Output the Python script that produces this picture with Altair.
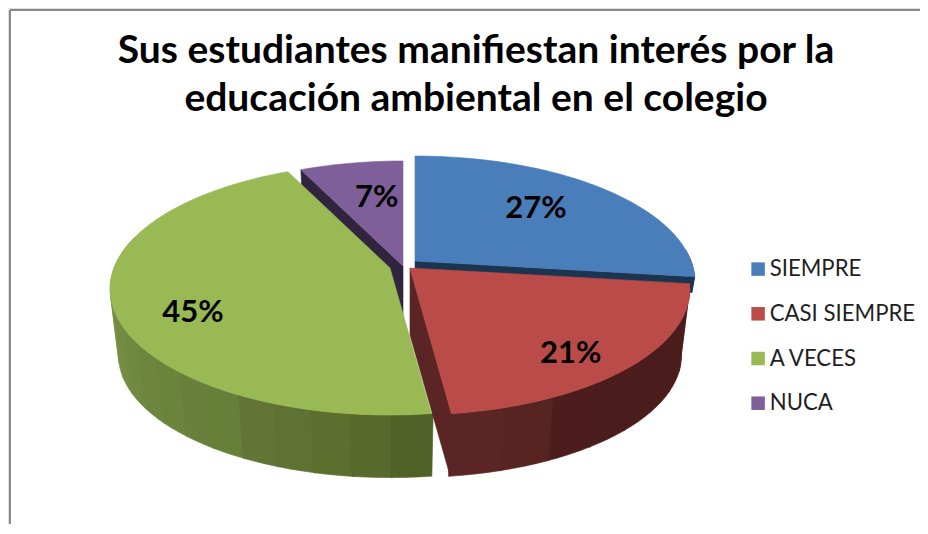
import math
import altair as alt
import pandas as pd

categories = ["SIEMPRE", "CASI SIEMPRE", "A VECES", "NUCA"]
shares = [27, 21, 45, 7]
top_colors = ["#4A7EBB", "#BA4B49", "#98B954", "#7F5F9A"]
apex_x = [407, 402, 382, 395]
apex_y = [253, 260, 260, 258]
label_radius = [0.66, 0.78, 0.72, 0.60]
label_nudge_x = [-6.5, -7, 0.5, 6.5]
label_nudge_y = [-2, 12, 20, -3]
green_bands = ["#8B9F4E", "#86A04B", "#7F994A", "#7D9A45", "#768F42", "#748C41", "#6F8A40",
               "#6E8540", "#6B843C", "#6B7F3C", "#66803A", "#637436", "#5F7233", "#5C6F2F",
               "#57692B", "#506227"]
red_bands = ["#4A1C1C", "#4A1C1C", "#4A1C1C", "#4A1C1C", "#4A1C1C", "#4C1D1C", "#572421", "#5A2524"]
blue_wall = "#1B3550"
purple_wall = "#30243F"

K = 1 / 6
RX, RY = 276, 122.5
SCALE_BOTTOM, DROP, BLUE_DROP = 0.97, 67, 16


def project(theta, ax, ay, r=1.0, s=1.0, d=0.0):
    t = math.radians(theta)
    u, v = r * math.sin(t), -r * math.cos(t)
    w = 1 - K * v
    return ax + s * RX * u / w, ay + d + s * RY * v / w


def arc_angles(a, b, step=2.0):
    n = max(1, int(abs(b - a) / step))
    return [a + (b - a) * i / n for i in range(n + 1)]


rows = []
poly_id = 0


def add_poly(points, fill, cat=None):
    global poly_id
    points = points + [points[0]]
    for i, (x, y) in enumerate(points):
        rows.append({"poly": poly_id, "seq": i, "x": x, "y": y, "fill": fill, "cat": cat})
    poly_id += 1


def wall(a, b, ax, ay, fill, drop=DROP, s=SCALE_BOTTOM):
    angs = arc_angles(a, b)
    top = [project(t, ax, ay) for t in angs]
    bot = [project(t, ax, ay, s=s, d=drop) for t in reversed(angs)]
    add_poly(top + bot, fill)


def cut(theta, ax, ay, fill, drop=DROP, s=SCALE_BOTTOM):
    add_poly([(ax, ay), project(theta, ax, ay),
              project(theta, ax, ay, s=s, d=drop), (ax, ay + drop)], fill)


total = sum(shares)
starts, ends, acc = [], [], 0
for v in shares:
    starts.append(acc / total * 360)
    acc += v
    ends.append(acc / total * 360)

# sides, back to front
wall(85, ends[0], apex_x[0], apex_y[0], blue_wall, BLUE_DROP, 0.99)
cut(ends[0], apex_x[0], apex_y[0], blue_wall, BLUE_DROP, 0.99)
cut(starts[3], apex_x[3], apex_y[3], purple_wall)
for bands, a, b, i in [(green_bands, 285, starts[2], 2), (red_bands, starts[1], ends[1], 1)]:
    for j, c in enumerate(bands):
        wall(a + (b - a) * j / len(bands), a + (b - a) * (j + 1) / len(bands) + 0.3 * (1 if b > a else -1),
             apex_x[i], apex_y[i], c)
cut(ends[1], apex_x[1], apex_y[1], red_bands[-1])
walls = pd.DataFrame(rows)

rows = []
for i in [0, 3, 2, 1]:
    pts = [(apex_x[i], apex_y[i])] + [project(t, apex_x[i], apex_y[i]) for t in arc_angles(starts[i], ends[i])]
    add_poly(pts, top_colors[i], categories[i])
tops = pd.DataFrame(rows)

labels = []
for i, v in enumerate(shares):
    x, y = project((starts[i] + ends[i]) / 2, apex_x[i], apex_y[i], r=label_radius[i])
    labels.append({"x": x + label_nudge_x[i], "y": y + label_nudge_y[i], "text": f"{v}%"})
labels = pd.DataFrame(labels)

W, H = 912, 516
xs = alt.Scale(domain=[0, W], range=[0, W], nice=False, zero=False)
ys = alt.Scale(domain=[0, H], range=[0, H], nice=False, zero=False)
X = alt.X("x:Q", scale=xs, axis=None)
Y = alt.Y("y:Q", scale=ys, axis=None)

wall_layer = alt.Chart(walls).mark_line(strokeWidth=0.6, interpolate="linear").encode(
    x=X, y=Y, order="seq:Q", detail="poly:N",
    fill=alt.Fill("fill:N", scale=None), stroke=alt.Stroke("fill:N", scale=None))

top_layer = alt.Chart(tops).mark_line(strokeWidth=0.6, interpolate="linear").encode(
    x=X, y=Y, order="seq:Q", detail="poly:N",
    fill=alt.Fill("fill:N", scale=None), stroke=alt.Stroke("fill:N", scale=None))

legend_df = pd.DataFrame({"cat": categories, "x": [0] * 4, "y": [0] * 4})
legend_layer = alt.Chart(legend_df).mark_square(size=0, opacity=0).encode(
    x=X, y=Y,
    color=alt.Color("cat:N", sort=categories,
                    scale=alt.Scale(domain=categories, range=top_colors),
                    legend=alt.Legend(title=None, orient="none", legendX=739, legendY=250,
                                      symbolType="square", symbolSize=182, symbolStrokeWidth=0,
                                      symbolOpacity=1, labelFont="Lato", labelFontSize=22.2,
                                      labelColor="#1f1f1f", labelOffset=0.5, rowPadding=21.7,
                                      labelLimit=200)))

label_layer = alt.Chart(labels).mark_text(font="Lato", fontWeight="bold", fontSize=31, color="#000000").encode(
    x=X, y=Y, text="text:N")

frame_left = alt.Chart(legend_df.head(1)).mark_rule(color="#8A8A8A", strokeWidth=2).encode(
    x=alt.value(2), y=alt.value(2), y2=alt.value(H))
frame_top = alt.Chart(legend_df.head(1)).mark_rule(color="#8A8A8A", strokeWidth=2).encode(
    x=alt.value(2), x2=alt.value(W), y=alt.value(2))

chart = alt.layer(frame_left, frame_top, wall_layer, top_layer, legend_layer, label_layer).properties(
    width=W, height=H, padding=0, autosize=alt.AutoSizeParams(type="none"),
    title=alt.TitleParams(
        text=["Sus estudiantes manifiestan interés por la", "educación ambiental en el colegio"],
        font="Lato", fontWeight="bold", fontSize=39, lineHeight=48, color="#000000",
        anchor="start", align="center", baseline="top", dx=468, dy=111, frame="group", offset=0),
).configure_view(stroke=None).configure(background="white")

chart.save("out.html", embed_options={"renderer": "svg", "actions": False})
